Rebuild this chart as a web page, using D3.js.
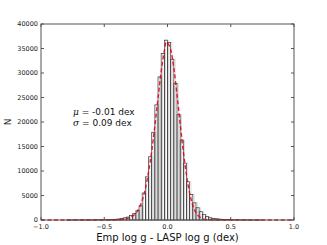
<!DOCTYPE html>
<html><head><meta charset="utf-8">
<script src="https://cdn.jsdelivr.net/npm/d3@7"></script>
<style>html,body{margin:0;padding:0;background:#fff;}svg{display:block;}</style>
</head><body>
<svg id="c" width="327" height="245"></svg>
<script>
// Histogram bins: left edges from -1.0, width 0.025
const binStart = -1.0;
const binWidth = 0.025;
const counts = [
  0,0,0,0,0,0,0,0,10,10,15,15,20,20,25,30,
  35,40,50,60,70,90,110,140,200,300,450,600,900,1300,1900,2900,
  5500,8800,12900,17900,23500,29200,34000,36700,36200,32800,27900,21500,16300,11600,7800,5200,
  3500,2500,1700,1100,700,450,330,250,180,130,100,80,60,50,40,30,
  25,20,15,10,10,5,0,0,0,0,0,0,0,0,0,0
];
// Fitted curve (red dashed)
const fitX = [-1.0,-0.45,-0.4,-0.35,-0.3,-0.275,-0.25,-0.225,-0.2,-0.175,-0.15,-0.125,-0.1,-0.075,-0.05,-0.025,-0.01,0.0,0.025,0.05,0.075,0.1,0.125,0.15,0.175,0.2,0.225,0.25,0.275,0.3,0.35,0.4,1.0];
const fitY = [0,0,30,150,450,800,1400,2400,4000,6400,9800,14000,19200,24800,30300,34500,36300,36100,34800,31000,25600,19700,14000,9200,5500,3000,1500,700,300,100,20,0,0];
const xTicks = [-1.0,-0.5,0.0,0.5,1.0];
const yTicks = [0,5000,10000,15000,20000,25000,30000,35000,40000];
const statsText = ["-0.01","0.09"];

const svg = d3.select("#c");
const L=41, R=294, T=24, B=220;
const x = d3.scaleLinear().domain([-1,1]).range([L,R]);
const y = d3.scaleLinear().domain([0,40000]).range([B,T]);

const bins = counts.map((c,i)=>({x0:binStart+i*binWidth, x1:binStart+(i+1)*binWidth, c}));

// light gray underlying bars
svg.append("g").selectAll("rect").data(bins.filter(d=>d.c>0)).join("rect")
  .attr("x", d=>x(d.x0)+1.3).attr("width", d=>x(d.x1)-x(d.x0))
  .attr("y", d=>y(d.c)).attr("height", d=>B-y(d.c))
  .attr("fill","none").attr("stroke","#d4d4d4").attr("stroke-width",0.8);
// dark bars
svg.append("g").selectAll("rect").data(bins.filter(d=>d.c>0)).join("rect")
  .attr("x", d=>x(d.x0)).attr("width", d=>x(d.x1)-x(d.x0))
  .attr("y", d=>y(d.c)).attr("height", d=>B-y(d.c))
  .attr("fill","none").attr("stroke","#3a3a3a").attr("stroke-width",0.7);

// fit line
svg.append("path").datum(fitX.map((v,i)=>[v,fitY[i]]))
  .attr("d", d3.line().x(d=>x(d[0])).y(d=>y(d[1])).curve(d3.curveMonotoneX))
  .attr("fill","none").attr("stroke","#e8001c").attr("stroke-width",1.4)
  .attr("stroke-dasharray","4,2.5").attr("opacity",0.9);

// frame
svg.append("rect").attr("x",L).attr("y",T).attr("width",R-L).attr("height",B-T)
  .attr("fill","none").attr("stroke","#555").attr("stroke-width",1);

const fmtX = d=> d3.format(".1f")(d).replace("-","\u2212");
// x ticks
const gx = svg.append("g");
xTicks.forEach(t=>{
  gx.append("line").attr("x1",x(t)).attr("x2",x(t)).attr("y1",B).attr("y2",B-3).attr("stroke","#555");
  gx.append("line").attr("x1",x(t)).attr("x2",x(t)).attr("y1",T).attr("y2",T+3).attr("stroke","#555");
  gx.append("text").attr("x",x(t)).attr("y",B+9).attr("text-anchor","middle")
    .attr("font-family","DejaVu Sans").attr("font-size",6.5).attr("fill","#222").text(fmtX(t));
});
const gy = svg.append("g");
yTicks.forEach(t=>{
  gy.append("line").attr("x1",L).attr("x2",L+3).attr("y1",y(t)).attr("y2",y(t)).attr("stroke","#555");
  gy.append("line").attr("x1",R).attr("x2",R-3).attr("y1",y(t)).attr("y2",y(t)).attr("stroke","#555");
  gy.append("text").attr("x",L-3).attr("y",y(t)).attr("dy","0.35em").attr("text-anchor","end")
    .attr("font-family","DejaVu Sans").attr("font-size",6.5).attr("fill","#222").text(t);
});

// labels
svg.append("text").attr("x",(L+R)/2).attr("y",241).attr("text-anchor","middle")
  .attr("font-family","DejaVu Sans").attr("font-size",10).attr("fill","#111")
  .text("Emp log g - LASP log g (dex)");
svg.append("text").attr("transform","translate(11,122) rotate(-90)").attr("text-anchor","middle")
  .attr("font-family","DejaVu Sans").attr("font-size",9).attr("fill","#111").text("N");

const t1 = svg.append("text").attr("x",73).attr("y",114.5).attr("font-family","DejaVu Sans").attr("font-size",9).attr("fill","#111");
t1.append("tspan").attr("font-style","italic").attr("font-family","DejaVu Serif").text("\u03bc");
t1.append("tspan").text(" = "+statsText[0]+" dex");
const t2 = svg.append("text").attr("x",73).attr("y",125.5).attr("font-family","DejaVu Sans").attr("font-size",9).attr("fill","#111");
t2.append("tspan").attr("font-style","italic").attr("font-family","DejaVu Serif").text("\u03c3");
t2.append("tspan").text(" = "+statsText[1]+" dex");
</script>
</body></html>
